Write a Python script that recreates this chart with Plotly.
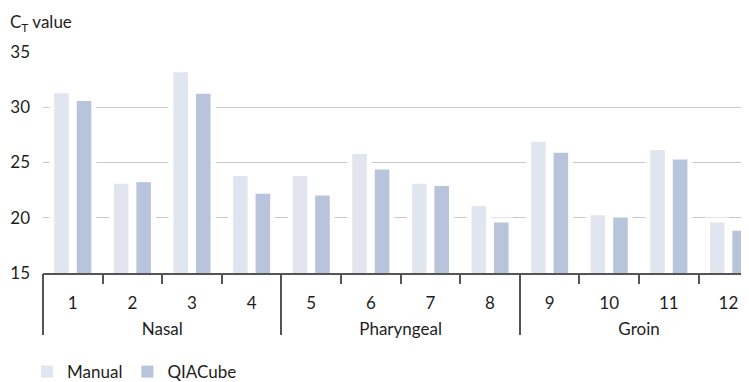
import plotly.graph_objects as go

groups = ["Nasal"] * 4 + ["Pharyngeal"] * 4 + ["Groin"] * 4
samples = ["1", "2", "3", "4", "5", "6", "7", "8", "9", "10", "11", "12"]
manual = [31.5, 23.3, 33.4, 24.0, 24.0, 26.0, 23.3, 21.3, 27.1, 20.45, 26.35, 19.8]
qiacube = [30.8, 23.45, 31.45, 22.4, 22.25, 24.6, 23.1, 19.8, 26.1, 20.25, 25.5, 19.05]
y_ticks = [15, 20, 25, 30, 35]
series_names = ["Manual", "QIACube"]
series_colors = ["#e1e5ef", "#b8c3dc"]

# group spans derived from the category list
group_names, group_centers, group_edges = [], [], []
for i, g in enumerate(groups):
    if i == 0 or groups[i - 1] != g:
        group_names.append(g)
        group_edges.append(i - 0.5)
        start = i
    if i == len(groups) - 1 or groups[i + 1] != g:
        group_centers.append((start + i) / 2)
group_edges.append(len(groups) - 0.5)

FONT = "Lato, 'Noto Sans', sans-serif"
TXT = "#1e1e1e"
AX = "#555555"
FS = 17

# page body has an 8px margin; figure sized to fill the rest of the window
W, H = 741, 374
ML, MT, PW, PH = 35, 44, 706, 221
XR = [-0.5, 11.345]

fig = go.Figure()
for name, vals, col in zip(series_names, [manual, qiacube], series_colors):
    fig.add_bar(x=samples, y=vals, name=name, offsetgroup=name, showlegend=False,
                marker=dict(color=col, line=dict(color="white", width=5)))
# legend swatches without the white outline (no marks in the plot)
for name, col in zip(series_names, series_colors):
    fig.add_bar(x=samples, y=[None] * len(samples), name=name, offsetgroup=name,
                showlegend=True, marker=dict(color=col, line=dict(width=0)))
# empty traces so the group-divider and group-label axes are drawn
for ax in ["x2", "x3"]:
    fig.add_scatter(x=[], y=[], xaxis=ax, yaxis="y", showlegend=False,
                    hoverinfo="skip", mode="markers")

fig.update_layout(
    width=W, height=H,
    margin=dict(l=ML, r=W - ML - PW, t=MT, b=H - MT - PH, autoexpand=False),
    paper_bgcolor="white", plot_bgcolor="white",
    barmode="group", bargap=0.245, bargroupgap=0.13,
    font=dict(family=FONT, size=FS, color=TXT),
    showlegend=True,
    legend=dict(orientation="h", x=-16 / PW, xanchor="left", y=-99 / PH,
                yanchor="middle", font=dict(size=FS, color=TXT), itemwidth=30,
                traceorder="normal", bgcolor="rgba(0,0,0,0)"),
    annotations=[dict(text="C<sub>T</sub> value", xref="paper", yref="paper",
                      x=-ML / PW, y=1 + 29 / PH, xanchor="left", yanchor="middle",
                      showarrow=False, font=dict(size=FS, color=TXT))],
    xaxis=dict(
        type="category", categoryorder="array", categoryarray=samples,
        range=XR, automargin=False,
        showline=True, linecolor=AX, linewidth=2,
        ticks="outside", ticklen=9, tickwidth=2, tickcolor=AX, tickson="boundaries",
        ticklabelstandoff=14, showgrid=False, tickfont=dict(size=FS, color=TXT),
    ),
    xaxis2=dict(
        overlaying="x", anchor="y", side="bottom", type="linear", range=XR,
        automargin=False, showline=False, showgrid=False, zeroline=False,
        tickmode="array", tickvals=group_edges, ticks="outside", ticklen=61,
        tickwidth=2, tickcolor=AX, showticklabels=False,
    ),
    xaxis3=dict(
        overlaying="x", anchor="y", side="bottom", type="linear", range=XR,
        automargin=False, showline=False, showgrid=False, zeroline=False,
        tickmode="array", tickvals=group_centers, ticktext=group_names, ticks="",
        ticklabelstandoff=44, tickfont=dict(size=FS, color=TXT),
    ),
    yaxis=dict(
        range=[15, 35], tickvals=y_ticks, showgrid=True, gridcolor="#c8c8c8",
        gridwidth=1, showline=False, zeroline=False, ticks="", ticklabelstandoff=12,
        automargin=False, tickfont=dict(size=FS, color=TXT),
    ),
)

fig.write_html("out.html")
